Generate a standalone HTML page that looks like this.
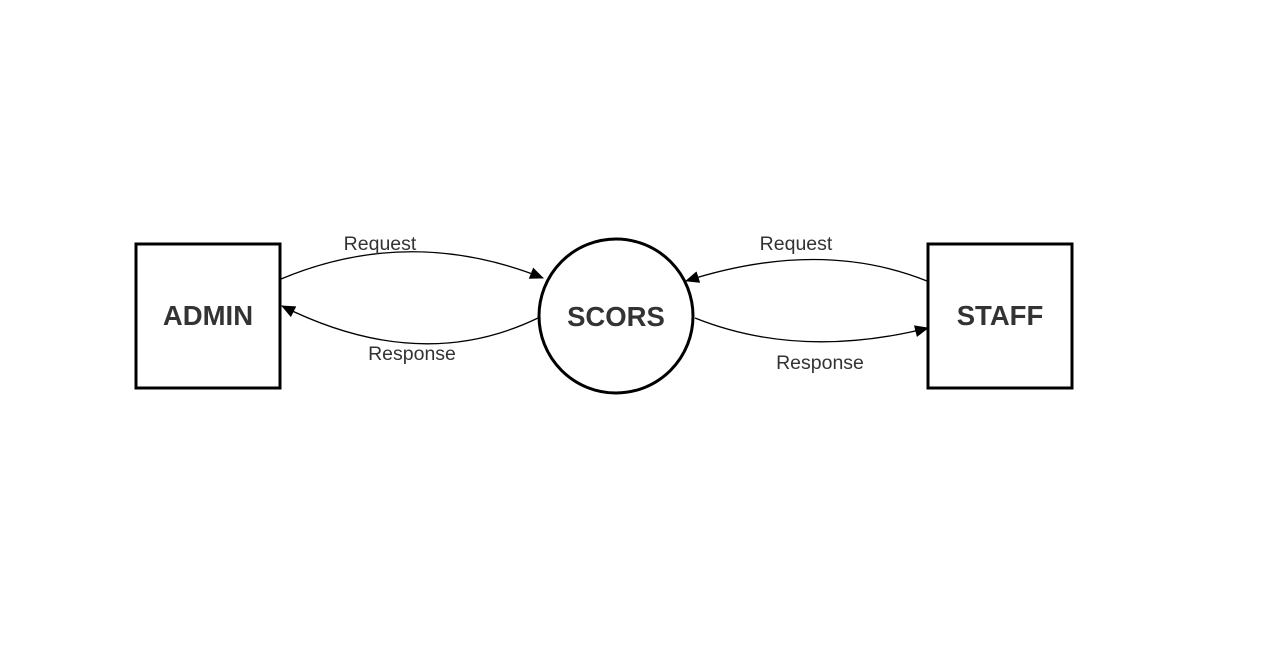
<!DOCTYPE html>
<html><head><style>body{margin:0;background:#fff}</style></head><body>
<svg width="1270" height="652" xmlns="http://www.w3.org/2000/svg" font-family="Liberation Sans, sans-serif">
<defs>
<marker id="b" markerWidth="14" markerHeight="12" refX="13" refY="6" orient="auto" markerUnits="userSpaceOnUse" viewBox="0 0 14 12"><path d="M0,0 L14,6 L0,12 Z" fill="#000"/></marker></defs>
<rect x="136" y="244" width="144" height="144" fill="#fff" stroke="#000" stroke-width="3"/>
<rect x="928" y="244" width="144" height="144" fill="#fff" stroke="#000" stroke-width="3"/>
<circle cx="616" cy="316" r="77" fill="#fff" stroke="#000" stroke-width="3"/>
<g fill="none" stroke="#000" stroke-width="1.3">
<path d="M281,279 Q410,225 543,278" marker-end="url(#b)"/>
<path d="M538,318 Q420,375 282,306" marker-end="url(#b)"/>
<path d="M927,281 Q820,238 686,281" marker-end="url(#b)"/>
<path d="M695,318 Q800,360 928,328" marker-end="url(#b)"/>
</g>
<g font-size="27.5" font-weight="bold" fill="#333" text-anchor="middle">
<text x="208" y="325">ADMIN</text><text x="616" y="326">SCORS</text><text x="1000" y="325">STAFF</text></g>
<g font-size="19.5" fill="#333" text-anchor="middle">
<text x="380" y="250">Request</text><text x="412" y="360">Response</text>
<text x="796" y="250">Request</text><text x="820" y="369">Response</text></g>
</svg>
</body></html>
